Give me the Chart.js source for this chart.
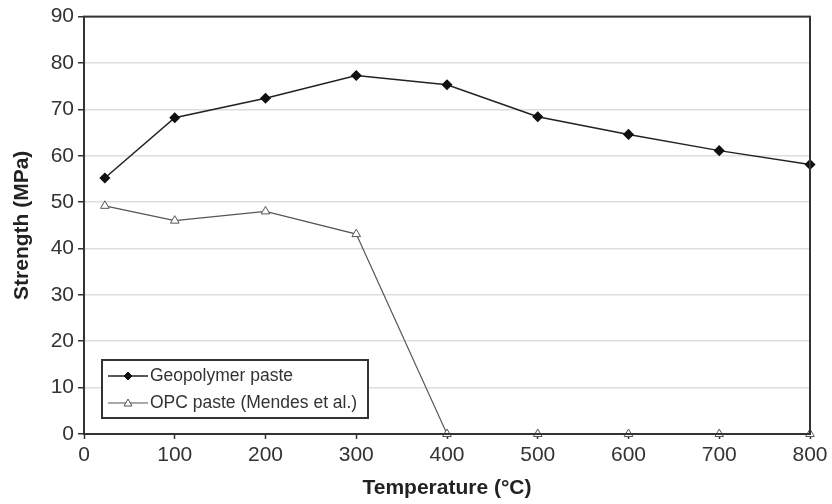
<!DOCTYPE html>
<html>
<head>
<meta charset="utf-8">
<script src="https://cdn.jsdelivr.net/npm/chart.js@4.4.1/dist/chart.umd.min.js"></script>
<style>
  html, body { margin: 0; padding: 0; background: #fff; }
  #wrap { width: 832px; height: 504px; }
</style>
</head>
<body>
<div id="wrap"><canvas id="myChart" width="832" height="504"></canvas></div>
<script>
const temps = [23, 100, 200, 300, 400, 500, 600, 700, 800];
const geopolymer = [55.2, 68.2, 72.4, 77.3, 75.3, 68.4, 64.6, 61.1, 58.1];
const opc = [49.2, 46.0, 48.0, 43.1, 0, 0, 0, 0, 0];
const seriesNames = ['Geopolymer paste', 'OPC paste (Mendes et al.)'];

const toPoints = (xs, ys) => xs.map((x, i) => ({ x: x, y: ys[i] }));
const FONT = '"Liberation Sans", Arial, sans-serif';

// frame round the plot + legend box inside the plot (bottom left)
const framePlugin = {
  id: 'frame',
  afterDraw(chart) {
    const c = chart.ctx;
    const a = chart.chartArea;
    c.save();
    c.strokeStyle = '#333';
    c.lineWidth = 2;
    c.strokeRect(a.left, a.top, a.right - a.left, a.bottom - a.top);

    // legend
    const bx = a.left + 18, by = a.bottom - 74, bw = 266, bh = 58;
    c.fillStyle = '#fff';
    c.fillRect(bx, by, bw, bh);
    c.lineWidth = 2;
    c.strokeStyle = '#333';
    c.strokeRect(bx, by, bw, bh);
    c.font = '17.5px ' + FONT;
    c.textBaseline = 'middle';
    chart.data.datasets.forEach((ds, i) => {
      const yy = by + 16 + i * 27;
      c.strokeStyle = ds.borderColor;
      c.lineWidth = ds.borderWidth;
      c.beginPath();
      c.moveTo(bx + 6, yy);
      c.lineTo(bx + 46, yy);
      c.stroke();
      c.fillStyle = ds.pointBackgroundColor;
      c.strokeStyle = ds.pointBorderColor;
      c.lineWidth = 1;
      c.beginPath();
      if (ds.pointStyle === 'triangle') {
        c.moveTo(bx + 26, yy - 4);
        c.lineTo(bx + 30, yy + 3);
        c.lineTo(bx + 22, yy + 3);
        c.closePath();
      } else {
        c.moveTo(bx + 26, yy - 4);
        c.lineTo(bx + 30, yy);
        c.lineTo(bx + 26, yy + 4);
        c.lineTo(bx + 22, yy);
        c.closePath();
      }
      c.fill();
      c.stroke();
      c.fillStyle = '#333';
      c.fillText(ds.label, bx + 48, yy);
    });
    c.restore();
  }
};

const ctx = document.getElementById('myChart');

const myChart = new Chart(ctx, {
  type: 'line',
  data: {
    datasets: [{
      label: seriesNames[0],
      data: toPoints(temps, geopolymer),
      borderColor: '#222',
      borderWidth: 1.5,
      pointStyle: 'rectRot',
      pointRadius: 4.5,
      pointBackgroundColor: '#111',
      pointBorderColor: '#111',
      tension: 0,
      clip: false
    }, {
      label: seriesNames[1],
      data: toPoints(temps, opc),
      borderColor: '#555',
      borderWidth: 1.2,
      pointStyle: 'triangle',
      pointRadius: 5,
      pointBackgroundColor: '#fff',
      pointBorderColor: '#555',
      pointBorderWidth: 1,
      tension: 0,
      clip: false
    }]
  },
  options: {
    responsive: false,
    animation: false,
    layout: { padding: { top: 14, right: 22, left: 10, bottom: 3 } },
    plugins: {
      legend: { display: false },
      tooltip: { enabled: false }
    },
    scales: {
      x: {
        type: 'linear',
        min: 0,
        max: 800,
        ticks: {
          stepSize: 100,
          color: '#333',
          padding: 4,
          font: { size: 21, family: FONT }
        },
        grid: { drawOnChartArea: false, drawTicks: true, tickLength: 5, tickColor: '#333', tickWidth: 1.5 },
        border: { color: '#333', width: 2 },
        title: {
          display: true,
          text: 'Temperature (°C)',
          color: '#222',
          padding: { top: 0, bottom: 0 },
          font: { size: 21, weight: 'bold', family: FONT }
        },
        afterFit(axis) { axis.height = 67; }
      },
      y: {
        min: 0,
        max: 90,
        ticks: {
          stepSize: 10,
          color: '#333',
          padding: 4,
          font: { size: 21, family: FONT }
        },
        grid: { color: '#ddd', lineWidth: 1.5, tickLength: 6, tickColor: '#333', tickWidth: 1.5 },
        border: { color: '#333', width: 2 },
        title: {
          display: true,
          text: 'Strength (MPa)',
          color: '#222',
          padding: { top: 0, bottom: 0 },
          font: { size: 21, weight: 'bold', family: FONT }
        },
        afterFit(axis) { axis.width = 74; }
      }
    }
  },
  plugins: [framePlugin]
});
</script>
</body>
</html>
